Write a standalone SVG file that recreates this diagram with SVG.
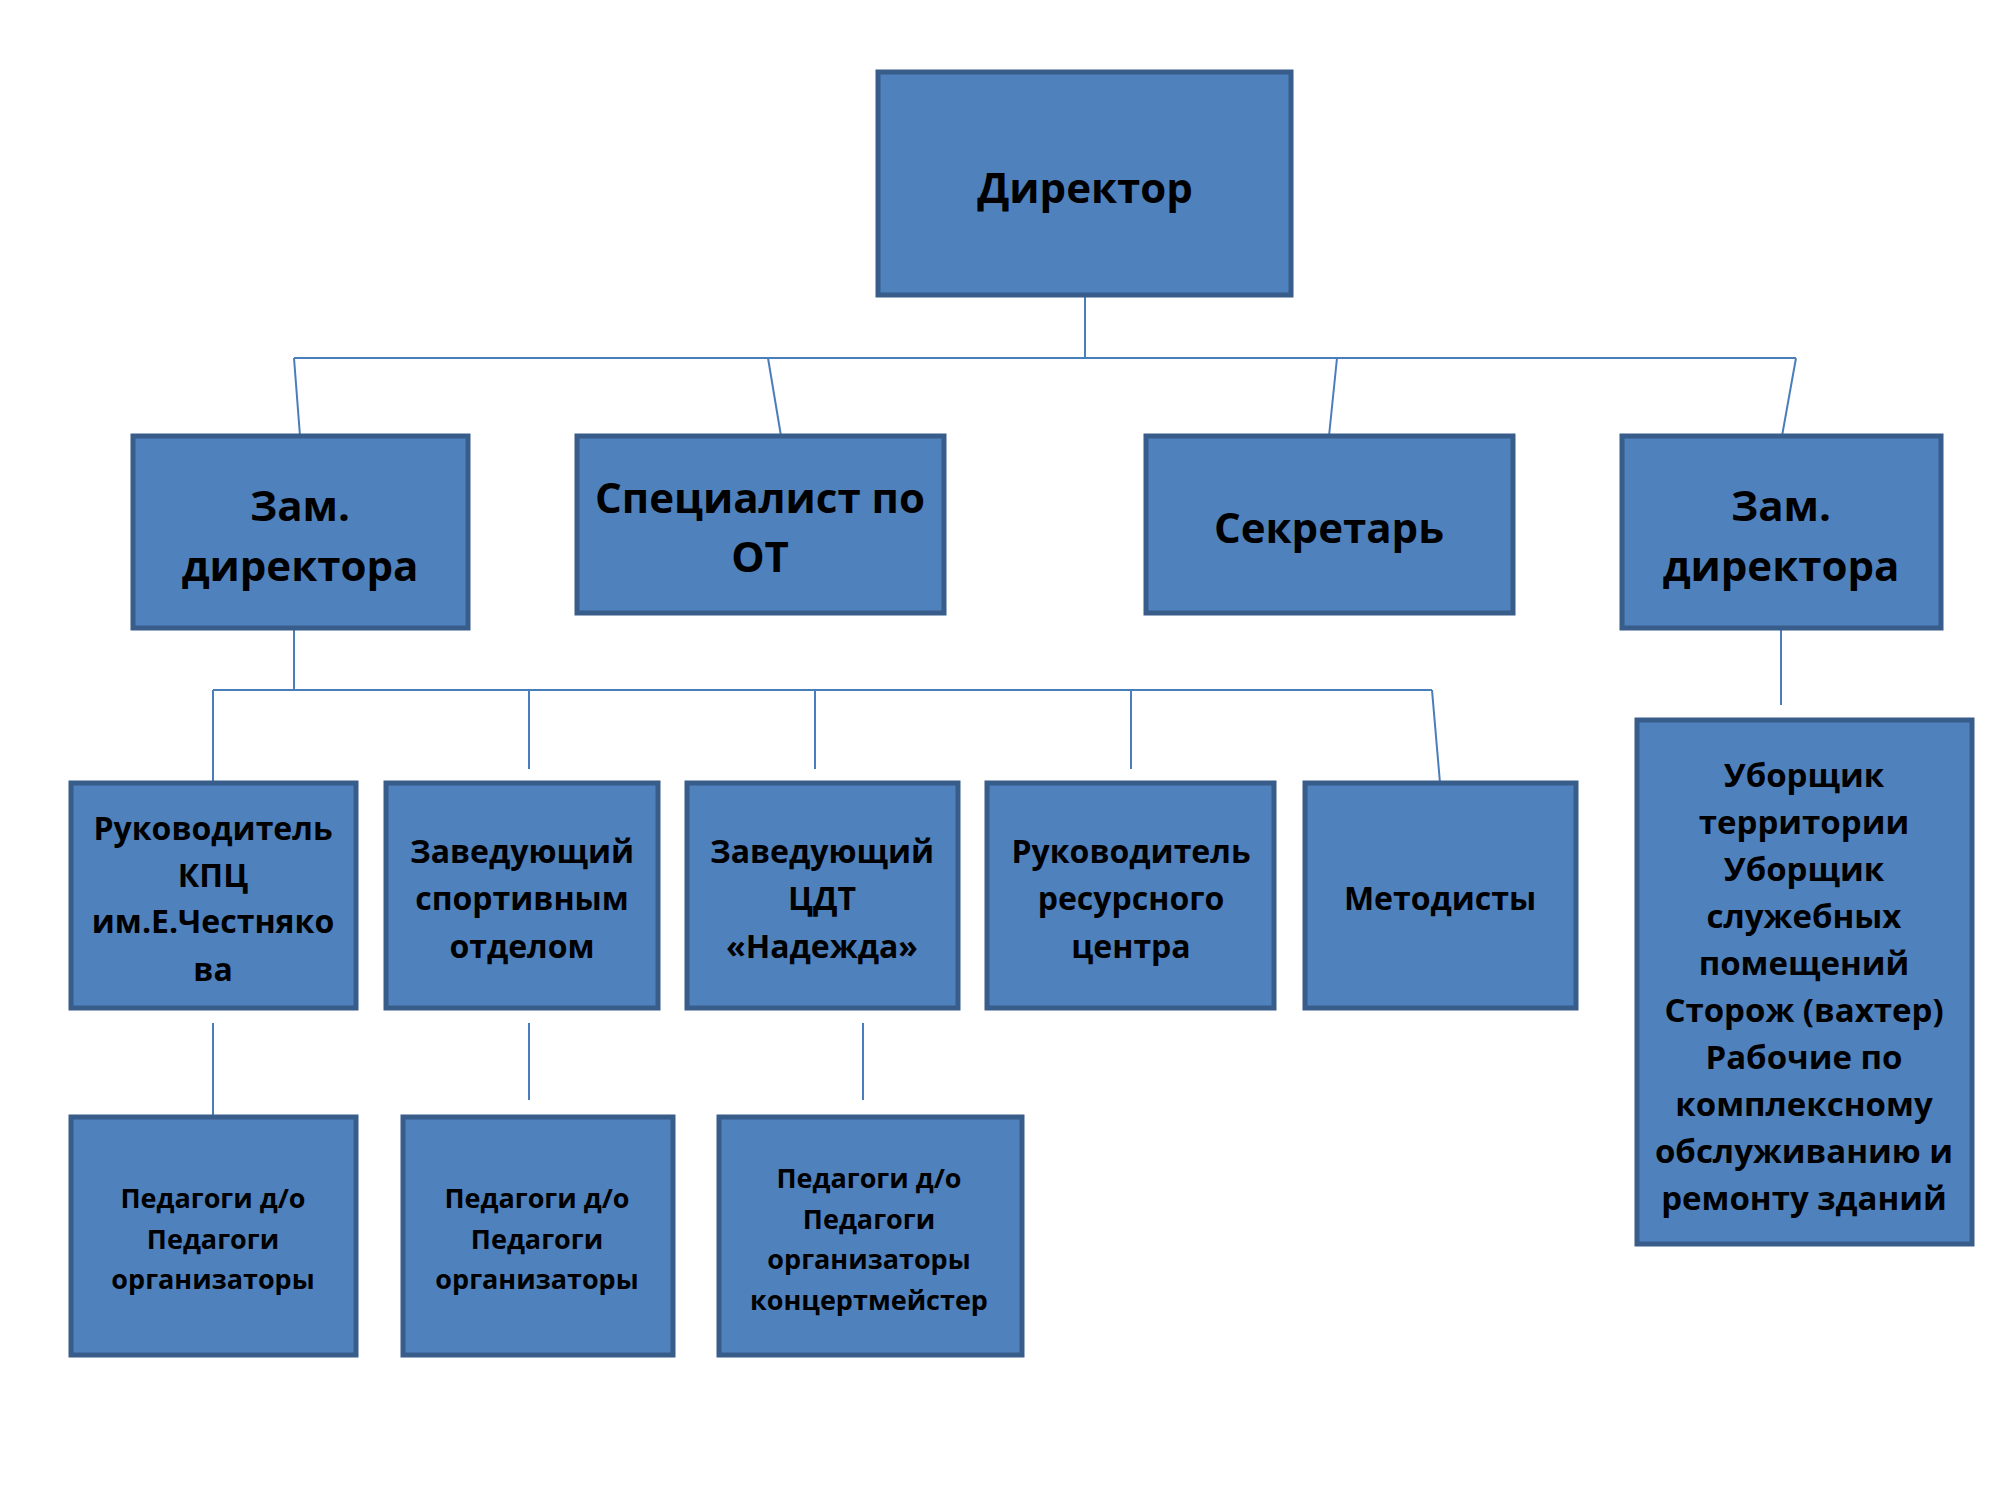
<svg xmlns="http://www.w3.org/2000/svg" width="2000" height="1500" viewBox="0 0 2000 1500">
<style>
.b{fill:#4F81BD;stroke:#385D8A;stroke-width:5}
text{font-family:"Open Sans","Noto Sans","DejaVu Sans",sans-serif;font-weight:bold;fill:#000;text-anchor:middle;dominant-baseline:central}
.l{font-size:42px}.m{font-size:32px}.s{font-size:27px}.r{font-size:33px}
.c{stroke:#4A7EBB;stroke-width:2;fill:none}
</style>
<rect width="2000" height="1500" fill="#fff"/>
<g id="connectors" class="c">
<path d="M1085 295V358M294 358H1796M294 358L300 436M768 358L781 436M1337 358L1329 436M1796 358L1782 436"/>
<path d="M1781 628V705M294 628V690M213 690H1432M213 690V783M529 690V769M815 690V769M1131 690V769M1432 690L1440 783"/>
<path d="M213 1023V1115M529 1023V1100M863 1023V1100"/>
</g>
<g id="director"><rect class="b" x="878" y="72" width="413" height="223"/><text class="l" x="1085" y="186">Директор</text></g>
<g id="zam1"><rect class="b" x="133" y="436" width="335" height="192"/><text class="l" x="300" y="504">Зам.</text><text class="l" x="300" y="564">директора</text></g>
<g id="spec"><rect class="b" x="577" y="436" width="367" height="177"/><text class="l" x="760" y="496">Специалист по</text><text class="l" x="760" y="555">ОТ</text></g>
<g id="secr"><rect class="b" x="1146" y="436" width="367" height="177"/><text class="l" x="1329" y="526">Секретарь</text></g>
<g id="zam2"><rect class="b" x="1622" y="436" width="319" height="192"/><text class="l" x="1781" y="504">Зам.</text><text class="l" x="1781" y="564">директора</text></g>
<g id="staff"><rect class="b" x="1637" y="720" width="335" height="524"/>
<text class="r" x="1804" y="774">Уборщик</text><text class="r" x="1804" y="821">территории</text><text class="r" x="1804" y="868">Уборщик</text><text class="r" x="1804" y="915">служебных</text><text class="r" x="1804" y="962">помещений</text><text class="r" x="1804" y="1009">Сторож (вахтер)</text><text class="r" x="1804" y="1056">Рабочие по</text><text class="r" x="1804" y="1103">комплексному</text><text class="r" x="1804" y="1150">обслуживанию и</text><text class="r" x="1804" y="1197">ремонту зданий</text></g>
<g id="kpc"><rect class="b" x="71" y="783" width="285" height="225"/><text class="m" x="213" y="827">Руководитель</text><text class="m" x="213" y="874">КПЦ</text><text class="m" x="213" y="920">им.Е.Честняко</text><text class="m" x="213" y="968">ва</text></g>
<g id="sport"><rect class="b" x="386" y="783" width="272" height="225"/><text class="m" x="522" y="850">Заведующий</text><text class="m" x="522" y="897">спортивным</text><text class="m" x="522" y="945">отделом</text></g>
<g id="cdt"><rect class="b" x="687" y="783" width="271" height="225"/><text class="m" x="822" y="850">Заведующий</text><text class="m" x="822" y="897">ЦДТ</text><text class="m" x="822" y="945">«Надежда»</text></g>
<g id="res"><rect class="b" x="987" y="783" width="287" height="225"/><text class="m" x="1131" y="850">Руководитель</text><text class="m" x="1131" y="897">ресурсного</text><text class="m" x="1131" y="945">центра</text></g>
<g id="met"><rect class="b" x="1305" y="783" width="271" height="225"/><text class="m" x="1440" y="897">Методисты</text></g>
<g id="ped1"><rect class="b" x="71" y="1117" width="285" height="238"/><text class="s" x="213" y="1197">Педагоги д/о</text><text class="s" x="213" y="1238">Педагоги</text><text class="s" x="213" y="1278">организаторы</text></g>
<g id="ped2"><rect class="b" x="403" y="1117" width="270" height="238"/><text class="s" x="537" y="1197">Педагоги д/о</text><text class="s" x="537" y="1238">Педагоги</text><text class="s" x="537" y="1278">организаторы</text></g>
<g id="ped3"><rect class="b" x="719" y="1117" width="303" height="238"/><text class="s" x="869" y="1177">Педагоги д/о</text><text class="s" x="869" y="1218">Педагоги</text><text class="s" x="869" y="1258">организаторы</text><text class="s" x="869" y="1299">концертмейстер</text></g>
</svg>
